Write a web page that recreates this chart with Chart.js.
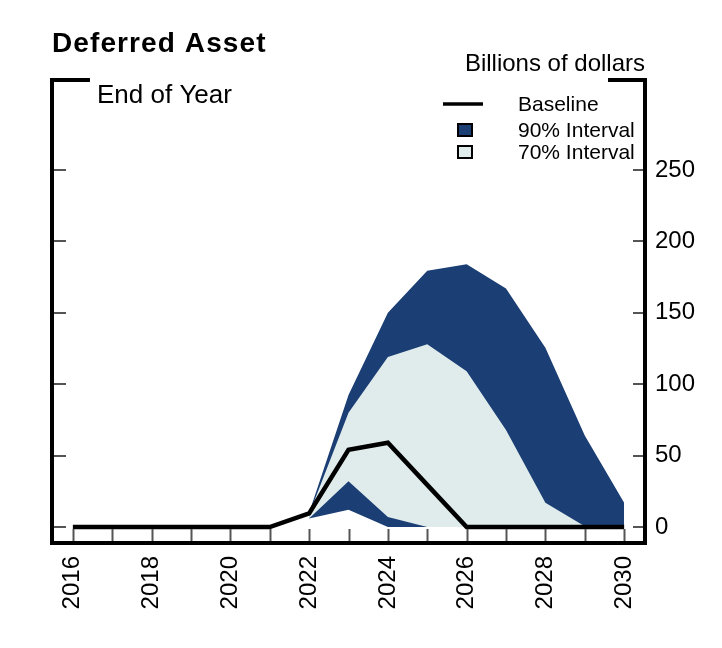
<!DOCTYPE html>
<html>
<head>
<meta charset="utf-8">
<script src="https://cdn.jsdelivr.net/npm/chart.js@4.4.1/dist/chart.umd.min.js"></script>
<style>
  html, body { margin: 0; padding: 0; background: #fff; }
  #wrap { position: relative; width: 722px; height: 648px; }
</style>
</head>
<body>
<div id="wrap"><canvas id="chart" width="722" height="648"></canvas></div>
<script>
// Deferred Asset, end of year, billions of dollars

const years = [2016, 2017, 2018, 2019, 2020, 2021, 2022, 2023, 2024, 2025, 2026, 2027, 2028, 2029, 2030];
const baseline = [0, 0, 0, 0, 0, 0, 9.5, 54, 59, 29.5, 0, 0, 0, 0, 0];
const upper90 = [null, null, null, null, null, null, 10, 92.5, 150, 179.5, 184, 167, 125.5, 64, 17];
const lower90 = [null, null, null, null, null, null, 6, 12, 0, 0, 0, 0, 0, 0, 0];
const upper70 = [null, null, null, null, null, null, 9, 80, 119, 128, 109, 68, 17, 0.5, 0];
const lower70 = [null, null, null, null, null, null, 6, 32, 7, 0, 0, 0, 0, 0, 0];

const yTicks = [0, 50, 100, 150, 200, 250];
const xLabelYears = [2016, 2018, 2020, 2022, 2024, 2026, 2028, 2030];

const NAVY = "#1b3e74";
const LIGHT = "#e0ecec";
const FONT = "'Liberation Sans', Arial, Helvetica, sans-serif";
const TICK_GRAY = "#555";

Chart.defaults.font.family = FONT;
Chart.defaults.color = "#000";

const pts = (arr) => years.map((x, i) => ({ x, y: arr[i] }));

// frame, inner tick marks, titles and the legend
const decor = {
  id: "decor",
  afterDraw(chart) {
    const { ctx, chartArea: a, scales } = chart;
    const xs = scales.x, ys = scales.y;
    ctx.save();

    // inner tick marks
    ctx.strokeStyle = TICK_GRAY;
    ctx.lineWidth = 2;
    years.forEach((yr) => {
      const px = Math.round(xs.getPixelForValue(yr)) + 0.5;
      ctx.beginPath();
      ctx.moveTo(px, a.bottom - 2);
      ctx.lineTo(px, a.bottom - 14);
      ctx.stroke();
    });
    yTicks.forEach((v) => {
      const py = Math.round(ys.getPixelForValue(v));
      ctx.beginPath();
      ctx.moveTo(a.left, py);
      ctx.lineTo(a.left + 14, py);
      ctx.moveTo(a.right, py);
      ctx.lineTo(a.right - 12, py);
      ctx.stroke();
    });

    // frame
    ctx.strokeStyle = "#000";
    ctx.lineWidth = 4;
    ctx.beginPath();
    ctx.moveTo(a.left + 38, a.top);
    ctx.lineTo(a.left, a.top);
    ctx.lineTo(a.left, a.bottom);
    ctx.lineTo(a.right, a.bottom);
    ctx.lineTo(a.right, a.top);
    ctx.lineTo(a.right - 37, a.top);
    ctx.stroke();

    // texts
    ctx.fillStyle = "#000";
    ctx.textBaseline = "alphabetic";
    ctx.textAlign = "left";
    ctx.font = "bold 28px " + FONT;
    ctx.letterSpacing = "1.1px";
    ctx.fillText("Deferred Asset", 52, 52);
    ctx.letterSpacing = "0px";
    ctx.font = "26px " + FONT;
    ctx.fillText("End of Year", 97, 103);
    ctx.textAlign = "right";
    ctx.font = "24px " + FONT;
    ctx.fillText("Billions of dollars", 645, 71);

    // legend
    ctx.textAlign = "left";
    ctx.font = "21px " + FONT;
    ctx.fillText("Baseline", 518, 111);
    ctx.fillText("90% Interval", 518, 137);
    ctx.fillText("70% Interval", 518, 159);
    ctx.lineWidth = 3.5;
    ctx.beginPath();
    ctx.moveTo(443, 104);
    ctx.lineTo(483, 104);
    ctx.stroke();
    ctx.lineWidth = 2;
    ctx.fillStyle = NAVY;
    ctx.fillRect(458, 124, 14, 12);
    ctx.strokeRect(458, 124, 14, 12);
    ctx.fillStyle = LIGHT;
    ctx.fillRect(458, 146, 14, 12);
    ctx.strokeRect(458, 146, 14, 12);

    ctx.restore();
  },
};

new Chart(document.getElementById("chart"), {
  type: "line",
  data: {
    datasets: [
      {
        label: "Baseline",
        data: pts(baseline),
        borderColor: "#000",
        borderWidth: 4.5,
        pointRadius: 0,
        fill: false,
        tension: 0,
        order: 0,
      },
      {
        label: "70% Interval",
        data: pts(upper70),
        borderWidth: 0,
        pointRadius: 0,
        backgroundColor: LIGHT,
        fill: "+1",
        tension: 0,
        order: 1,
      },
      {
        label: "70% lower",
        data: pts(lower70),
        borderWidth: 0,
        pointRadius: 0,
        fill: false,
        order: 2,
      },
      {
        label: "90% Interval",
        data: pts(upper90),
        borderWidth: 0,
        pointRadius: 0,
        backgroundColor: NAVY,
        fill: "+1",
        tension: 0,
        order: 3,
      },
      {
        label: "90% lower",
        data: pts(lower90),
        borderWidth: 0,
        pointRadius: 0,
        fill: false,
        order: 4,
      },
    ],
  },
  options: {
    responsive: false,
    animation: false,
    devicePixelRatio: 1,
    layout: { padding: { left: 52, top: 80, right: 0, bottom: 0 } },
    plugins: { legend: { display: false }, tooltip: { enabled: false } },
    scales: {
      x: {
        type: "linear",
        min: 2015.47,
        max: 2030.53,
        grid: { display: false, drawTicks: false },
        border: { display: false },
        afterBuildTicks: (s) => { s.ticks = xLabelYears.map((v) => ({ value: v })); },
        afterFit: (s) => { s.height = 105; },
        ticks: {
          minRotation: 90,
          maxRotation: 90,
          padding: 13,
          font: { size: 24 },
          callback: (v) => String(v),
        },
      },
      y: {
        position: "right",
        min: -11.2,
        max: 313,
        grid: { display: false, drawTicks: false },
        border: { display: false },
        afterBuildTicks: (s) => { s.ticks = yTicks.map((v) => ({ value: v })); },
        afterFit: (s) => { s.width = 77; },
        ticks: { padding: 10, font: { size: 24 } },
      },
    },
  },
  plugins: [decor],
});
</script>
</body>
</html>
